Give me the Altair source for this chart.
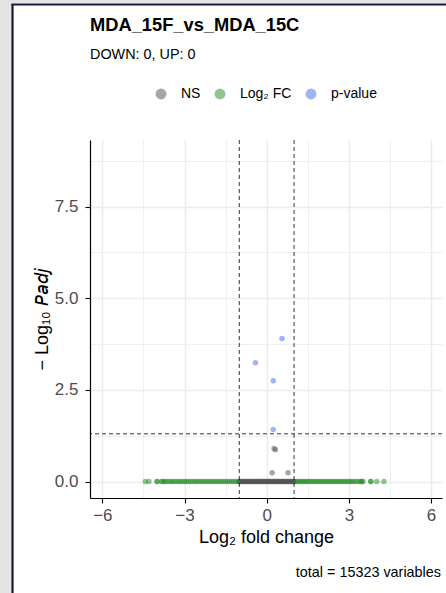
import altair as alt
import pandas as pd

# ---- data ----
categories = ["NS", "Log₂ FC", "p-value"]
colors = ["#4d4d4d", "#228b22", "#4169e1"]

ns_x = [-0.98, -0.94, -0.90, -0.86, -0.82, -0.78, -0.74, -0.70, -0.66, -0.62,
        -0.58, -0.54, -0.50, -0.46, -0.42, -0.38, -0.34, -0.30, -0.26, -0.22,
        -0.18, -0.14, -0.10, -0.06, -0.02, 0.02, 0.06, 0.10, 0.14, 0.18,
        0.22, 0.26, 0.30, 0.34, 0.38, 0.42, 0.46, 0.50, 0.54, 0.58,
        0.62, 0.66, 0.70, 0.74, 0.78, 0.82, 0.86, 0.90, 0.94, 0.98,
        0.27, 0.32, 0.20, 0.78]
ns_y = [0.0, 0.0, 0.0, 0.0, 0.0, 0.0, 0.0, 0.0, 0.0, 0.0,
        0.0, 0.0, 0.0, 0.0, 0.0, 0.0, 0.0, 0.0, 0.0, 0.0,
        0.0, 0.0, 0.0, 0.0, 0.0, 0.0, 0.0, 0.0, 0.0, 0.0,
        0.0, 0.0, 0.0, 0.0, 0.0, 0.0, 0.0, 0.0, 0.0, 0.0,
        0.0, 0.0, 0.0, 0.0, 0.0, 0.0, 0.0, 0.0, 0.0, 0.0,
        0.90, 0.87, 0.24, 0.24]

fc_x = [-4.43, -4.30, -4.00, -4.00, -3.82, -3.82, -3.74, -3.68, -3.60, -3.52,
        -3.45, -3.38, -3.30, -3.22, -3.15, -3.08, -3.00, -2.93, -2.85, -2.78,
        -2.70, -2.62, -2.55, -2.48, -2.40, -2.33, -2.25, -2.18, -2.10, -2.03,
        -1.95, -1.88, -1.80, -1.73, -1.65, -1.58, -1.50, -1.43, -1.35, -1.28,
        -1.20, -1.13, -1.05, -1.01,
        1.01, 1.06, 1.12, 1.18, 1.24, 1.30, 1.36, 1.42, 1.48, 1.55,
        1.62, 1.68, 1.75, 1.82, 1.88, 1.95, 2.02, 2.08, 2.15, 2.22,
        2.28, 2.35, 2.42, 2.48, 2.55, 2.62, 2.68, 2.75, 2.82, 2.88,
        2.95, 3.02, 3.08, 3.15, 3.22, 3.30, 3.38, 3.46, 3.46, 3.52,
        3.80, 3.80, 4.02, 4.28]
fc_y = [0.0, 0.0, 0.0, 0.0, 0.0, 0.0, 0.0, 0.0, 0.0, 0.0,
        0.0, 0.0, 0.0, 0.0, 0.0, 0.0, 0.0, 0.0, 0.0, 0.0,
        0.0, 0.0, 0.0, 0.0, 0.0, 0.0, 0.0, 0.0, 0.0, 0.0,
        0.0, 0.0, 0.0, 0.0, 0.0, 0.0, 0.0, 0.0, 0.0, 0.0,
        0.0, 0.0, 0.0, 0.0,
        0.0, 0.0, 0.0, 0.0, 0.0, 0.0, 0.0, 0.0, 0.0, 0.0,
        0.0, 0.0, 0.0, 0.0, 0.0, 0.0, 0.0, 0.0, 0.0, 0.0,
        0.0, 0.0, 0.0, 0.0, 0.0, 0.0, 0.0, 0.0, 0.0, 0.0,
        0.0, 0.0, 0.0, 0.0, 0.0, 0.0, 0.0, 0.0, 0.0, 0.0,
        0.0, 0.0, 0.0, 0.0]

pv_x = [0.56, -0.41, 0.24, 0.24]
pv_y = [3.90, 3.24, 2.75, 1.42]

fc_cutoffs = [-1.0, 1.0]
p_cutoff = [1.301]

x_grid = [-6, -4.5, -3, -1.5, 0, 1.5, 3, 4.5, 6]
y_grid = [0, 1.25, 2.5, 3.75, 5, 6.25, 7.5, 8.75]

title_text = "MDA_15F_vs_MDA_15C"
subtitle_text = "DOWN: 0, UP: 0"
caption_text = "total = 15323 variables"

# ---- tables ----
pts = pd.DataFrame({
    "x": ns_x + fc_x + pv_x,
    "y": ns_y + fc_y + pv_y,
    "cat": [categories[0]] * len(ns_x) + [categories[1]] * len(fc_x) + [categories[2]] * len(pv_x),
})
vlines = pd.DataFrame({"x": fc_cutoffs})
hline = pd.DataFrame({"y": p_cutoff})
cap = pd.DataFrame({"t": [caption_text]})
one = pd.DataFrame({"k": [0]})

xscale = alt.Scale(domain=[-6.45, 6.4], nice=False, zero=False)
yscale = alt.Scale(domain=[-0.45, 9.32], nice=False, zero=False)

xaxis = alt.Axis(
    values=x_grid,
    labelExpr="datum.value % 3 === 0 ? format(datum.value, 'd') : ''",
    tickOpacity=alt.condition("datum.value % 3 === 0", alt.value(1), alt.value(0)),
    gridWidth=alt.condition("datum.value % 3 === 0", alt.value(1.5), alt.value(0.8)),
    title="Log₂ fold change",
    labelPadding=4,
)
yaxis = alt.Axis(
    values=y_grid,
    labelExpr="datum.value % 2.5 === 0 ? format(datum.value, '.1f') : ''",
    tickOpacity=alt.condition("datum.value % 2.5 === 0", alt.value(1), alt.value(0)),
    gridWidth=alt.condition("datum.value % 2.5 === 0", alt.value(1.5), alt.value(0.8)),
    title="− Log₁₀ 𝘗𝘢𝘥𝘫",
    labelPadding=7,
)

points = alt.Chart(pts).mark_circle(size=30, opacity=0.5, strokeWidth=0).encode(
    x=alt.X("x:Q", scale=xscale, axis=xaxis),
    y=alt.Y("y:Q", scale=yscale, axis=yaxis),
    color=alt.Color(
        "cat:N",
        scale=alt.Scale(domain=categories, range=colors),
        legend=alt.Legend(
            orient="none", legendX=64, legendY=-53, direction="horizontal",
            title=None, labelFontSize=14, labelColor="black",
            symbolType="circle", symbolSize=120, symbolOpacity=0.5,
            symbolStrokeWidth=0, columnPadding=12, labelOffset=13,
            gridAlign="none",
        ),
    ),
    order=alt.Order("cat:N"),
)

vrules = alt.Chart(vlines).mark_rule(color="black", strokeDash=[4, 3], strokeWidth=0.8).encode(
    x=alt.X("x:Q", scale=xscale)
)
hrule = alt.Chart(hline).mark_rule(color="black", strokeDash=[4, 3], strokeWidth=0.8).encode(
    y=alt.Y("y:Q", scale=yscale)
)
caption = alt.Chart(cap).mark_text(
    align="right", baseline="alphabetic", fontSize=14.4, color="black", font="Liberation Sans"
).encode(text="t:N", x=alt.value(351), y=alt.value(437))

# decorative window frame (screenshot edge) outside the plot area
frame_left = alt.Chart(one).mark_rect(color="#e4e4e4").encode(
    x=alt.value(-90), x2=alt.value(-79), y=alt.value(-140), y2=alt.value(453))
frame_top = alt.Chart(one).mark_rect(color="#e4e4e4").encode(
    x=alt.value(-90), x2=alt.value(356), y=alt.value(-140), y2=alt.value(-137))
frame_vline = alt.Chart(one).mark_rule(color="#16163a", strokeWidth=2.2).encode(
    x=alt.value(-77.5), y=alt.value(-136), y2=alt.value(453))
frame_hline = alt.Chart(one).mark_rule(color="#16163a", strokeWidth=2.2).encode(
    y=alt.value(-135.5), x=alt.value(-78.6), x2=alt.value(356))

chart = alt.layer(points, vrules, hrule, caption,
                  frame_left, frame_top, frame_vline, frame_hline).properties(
    width=352,
    height=358,
    background="white",
    autosize=alt.AutoSizeParams(type="none"),
    padding={"left": 90, "top": 140, "right": 4, "bottom": 95},
    title=alt.TitleParams(
        text=title_text, subtitle=subtitle_text, anchor="start", frame="group",
        fontSize=18.3, fontWeight="bold", color="black", font="Liberation Sans",
        subtitleFontSize=14.4, subtitleColor="black", subtitleFont="Liberation Sans",
        subtitlePadding=12, offset=-62,
    ),
).configure_view(stroke=None).configure_axis(
    labelFont="Liberation Sans", titleFont="Liberation Sans",
    labelFontSize=17, labelColor="#4d4d4d", titleFontSize=18, titleColor="black",
    titleFontWeight="normal", domainColor="black", domainWidth=1.2,
    tickColor="black", tickSize=5, tickWidth=1.1, gridColor="#ebebeb",
).configure_axisX(titlePadding=5).configure_axisY(titlePadding=3).configure_legend(
    labelFont="Liberation Sans"
)

chart.save("out.html", embed_options={"renderer": "svg", "actions": False})
